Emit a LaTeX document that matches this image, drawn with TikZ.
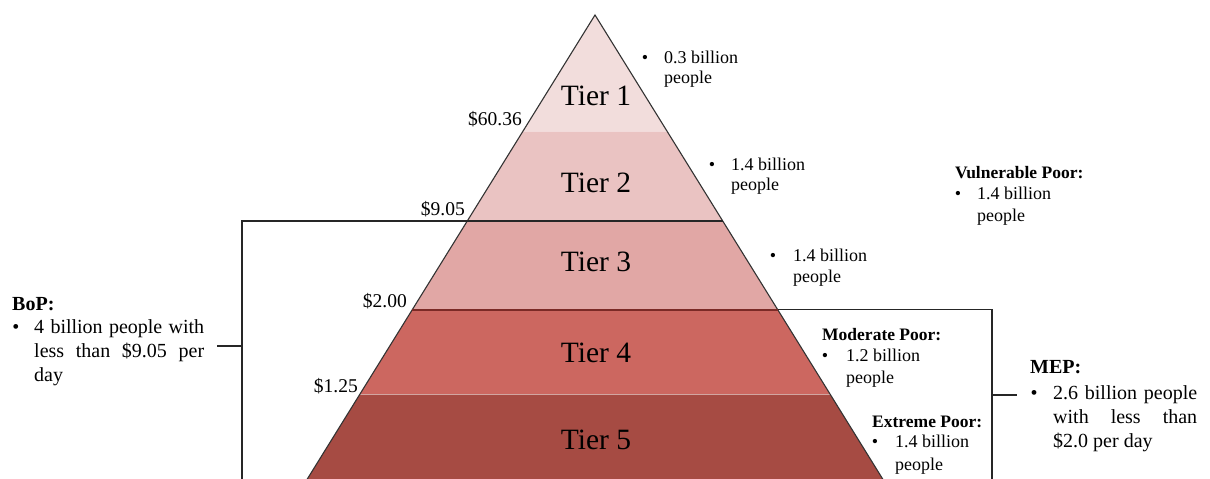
\documentclass[tikz,border=0pt]{standalone}
\usepackage{fontspec}
\setmainfont{Liberation Serif}
\definecolor{tierA}{HTML}{F2DDDC}
\definecolor{tierB}{HTML}{EAC3C2}
\definecolor{tierC}{HTML}{E1A7A5}
\definecolor{tierD}{HTML}{CC6760}
\definecolor{tierE}{HTML}{A64B43}
\definecolor{sepRed}{HTML}{7B2A26}
% two-line bullet item: name, bullet x, text x, first baseline, second baseline, line 1, line 2
\newcommand\pplitem[7]{%
  \node[lbl, anchor=base] (#1-dot) at (#2,#4) {•};
  \node[lbl, anchor=base west] (#1-a) at (#3,#4) {#6};
  \node[lbl, anchor=base west] (#1-b) at (#3,#5) {#7};
}
\begin{document}
\begin{tikzpicture}[x=1pt,y=-1pt,
  lbl/.style={inner sep=0pt, font=\fontsize{18}{21}\selectfont},
  head/.style={inner sep=0pt, anchor=base west, font=\fontsize{17.5}{21}\selectfont\bfseries},
  big/.style={inner sep=0pt, font=\fontsize{20}{24}\selectfont},
  bighead/.style={inner sep=0pt, anchor=base west, font=\fontsize{20}{24}\selectfont\bfseries},
  price/.style={inner sep=0pt, anchor=base east, font=\fontsize{19.5}{23}\selectfont},
  tier/.style={inner sep=0pt, anchor=center, font=\fontsize{29.5}{34}\selectfont},
  outline/.style={draw=black!80, line width=1.1pt},
  bracket/.style={draw=black!85, line width=1.1pt}]
\useasboundingbox (0,0) rectangle (1210,479);
\begin{scope}
\clip (0,0) rectangle (1210,479);
% pyramid corner points on each tier boundary
\coordinate (apex) at (595,15);
\coordinate (l1) at (522.8,131.5); \coordinate (r1) at (667.2,131.5);
\coordinate (l2) at (467.3,221);   \coordinate (r2) at (722.7,221);
\coordinate (l3) at (412.4,309.5); \coordinate (r3) at (777.6,309.5);
\coordinate (l4) at (360.0,394);   \coordinate (r4) at (830.0,394);
\coordinate (l5) at (301.1,489);   \coordinate (r5) at (888.9,489);
% tier bands
\fill[tierA] (apex) -- (r1) -- (l1) -- cycle;
\fill[tierB] (l1) -- (r1) -- (r2) -- (l2) -- cycle;
\fill[tierC] (l2) -- (r2) -- (r3) -- (l3) -- cycle;
\fill[tierD] (l3) -- (r3) -- (r4) -- (l4) -- cycle;
\fill[tierE] (l4) -- (r4) -- (r5) -- (l5) -- cycle;
\draw[white, opacity=0.5, line width=0.8pt] (l4) -- (r4);
\draw[outline] (l5) -- (apex) -- (r5);
% BoP bracket
\coordinate (bopTop) at (242,221);
\coordinate (bopBot) at (242,490);
\coordinate (bopTick) at (242,346);
\draw[bracket] (r2) -- (bopTop) -- (bopBot);
% MEP bracket
\coordinate (mepTop) at (992,309.5);
\coordinate (mepBot) at (992,490);
\coordinate (mepTick) at (992,395);
\draw[sepRed, line width=2pt] (l3) -- (r3);
\draw[bracket] (r3) -- (mepTop) -- (mepBot);
\end{scope}
% tier labels
\node[tier] (tier1) at (596,95.5) {Tier 1};
\node[tier] (tier2) at (596,182.5) {Tier 2};
\node[tier] (tier3) at (596,262) {Tier 3};
\node[tier] (tier4) at (596,353) {Tier 4};
\node[tier] (tier5) at (596,440) {Tier 5};
% income thresholds
\node[price] (p1) at (522,125) {\$60.36};
\node[price] (p2) at (465,215) {\$9.05};
\node[price] (p3) at (407,307) {\$2.00};
\node[price] (p4) at (358,392) {\$1.25};
% population per tier
\pplitem{pop1}{645}{664}{63}{83}{0.3 billion}{people}
\pplitem{pop2}{712}{731}{170}{190}{1.4 billion}{people}
\pplitem{pop3}{773}{793}{261}{282}{1.4 billion}{people}
% poverty groups
\node[head] (vp) at (955,178) {Vulnerable Poor:};
\pplitem{vpi}{958}{977}{199}{221}{1.4 billion}{people}
\node[head] (mp) at (822,340) {Moderate Poor:};
\pplitem{mpi}{825}{846}{361}{383}{1.2 billion}{people}
\node[head] (ep) at (872,427) {Extreme Poor:};
\pplitem{epi}{875}{895}{447}{470}{1.4 billion}{people}
% BoP summary
\node[bighead] (bop) at (12,310) {BoP:};
\node[big, anchor=base] (bop-dot) at (16,333) {•};
\node[big, anchor=base west] (bop-a) at (34,333) {\makebox[170pt][s]{4 billion people with}};
\node[big, anchor=base west] (bop-b) at (34,357) {\makebox[170pt][s]{less than \$9.05 per}};
\node[big, anchor=base west] (bop-c) at (34,381) {day};
\coordinate (bopEnd) at (217,346);
\draw[bracket] (bopEnd) -- (bopTick);
% MEP summary
\node[bighead] (mep) at (1030,373) {MEP:};
\node[big, anchor=base] (mep-dot) at (1034,399) {•};
\node[big, anchor=base west] (mep-a) at (1053,399) {\makebox[144pt][s]{2.6 billion people}};
\node[big, anchor=base west] (mep-b) at (1053,423) {\makebox[144pt][s]{with less than}};
\node[big, anchor=base west] (mep-c) at (1053,447) {\$2.0 per day};
\coordinate (mepEnd) at (1017,395);
\draw[bracket] (mepTick) -- (mepEnd);
\end{tikzpicture}
\end{document}
